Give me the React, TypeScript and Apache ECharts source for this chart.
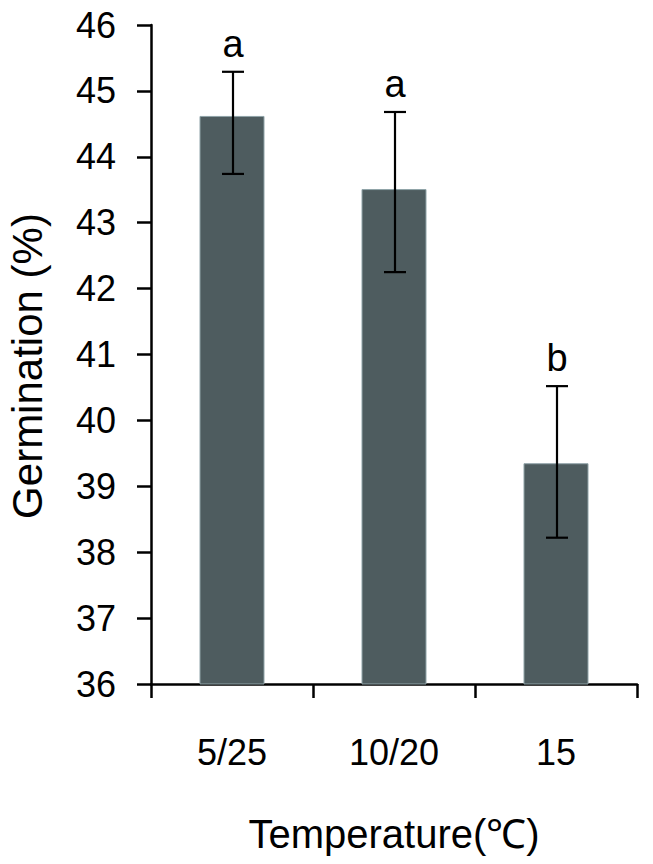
import React, { useEffect, useRef } from "react";
import * as echarts from "echarts";

const categories = ["5/25", "10/20", "15"];
const means = [44.62, 43.51, 39.35];
const errUpper = [45.29, 44.68, 40.52];
const errLower = [43.74, 42.25, 38.22];
const letters = ["a", "a", "b"];
const yTicks = { min: 36, max: 46, interval: 1 };

const FONT = '"Liberation Sans", Arial, Helvetica, sans-serif';

export default function App() {
  const ref = useRef<HTMLDivElement>(null);
  useEffect(() => {
    if (!ref.current) return;
    const chart = echarts.init(ref.current, null, { renderer: "svg" });
    const errData = categories.map((_, i) => [i, errLower[i], errUpper[i], letters[i]]);
    chart.setOption({
      animation: false,
      backgroundColor: "#ffffff",
      grid: { left: 151, top: 25, width: 486, height: 659, containLabel: false },
      graphic: [
        {
          type: "text",
          x: 27,
          y: 366,
          rotation: Math.PI / 2,
          style: {
            text: "Germination (%)",
            fontFamily: FONT,
            fontSize: 42,
            fill: "#000",
            align: "center",
            verticalAlign: "middle",
          },
        },
      ],
      xAxis: {
        type: "category",
        data: categories,
        boundaryGap: true,
        name: "Temperature(℃)",
        nameLocation: "middle",
        nameGap: 130,
        nameTextStyle: { fontFamily: FONT, fontSize: 40, color: "#000" },
        axisLine: { lineStyle: { color: "#000", width: 2.5 } },
        axisTick: { show: true, inside: false, length: 14, lineStyle: { color: "#000", width: 2.5 }, alignWithLabel: false },
        axisLabel: { fontFamily: FONT, fontSize: 36, color: "#000", margin: 50 },
        splitLine: { show: false },
      },
      yAxis: {
        type: "value",
        min: yTicks.min,
        max: yTicks.max,
        interval: yTicks.interval,
        axisLine: { show: true, lineStyle: { color: "#000", width: 2.5 } },
        axisTick: { show: true, inside: false, length: 14, lineStyle: { color: "#000", width: 2.5 } },
        axisLabel: { fontFamily: FONT, fontSize: 36, color: "#000", margin: 35 },
        splitLine: { show: false },
      },
      series: [
        {
          type: "bar",
          data: means,
          barWidth: 65,
          itemStyle: { color: "#4e5c5f", borderColor: "#8fa3a8", borderWidth: 1 },
          z: 2,
        },
        {
          type: "custom",
          z: 5,
          data: errData,
          renderItem: (params: any, api: any) => {
            const x = api.value(0);
            const lo = api.coord([x, api.value(1)]);
            const hi = api.coord([x, api.value(2)]);
            const cx = hi[0] + 1;
            const half = 11;
            const style = { stroke: "#000", lineWidth: 2.2 };
            return {
              type: "group",
              children: [
                { type: "line", shape: { x1: cx, y1: hi[1], x2: cx, y2: lo[1] }, style },
                { type: "line", shape: { x1: cx - half, y1: hi[1], x2: cx + half, y2: hi[1] }, style },
                { type: "line", shape: { x1: cx - half, y1: lo[1], x2: cx + half, y2: lo[1] }, style },
                {
                  type: "text",
                  x: cx,
                  y: hi[1] - 9,
                  style: {
                    text: String(api.value(3)),
                    fontFamily: FONT,
                    fontSize: 38,
                    fill: "#000",
                    align: "center",
                    verticalAlign: "bottom",
                  },
                },
              ],
            };
          },
        },
      ],
    });
    return () => chart.dispose();
  }, []);
  return (
    <div
      ref={ref}
      style={{ position: "absolute", left: 0, top: 0, width: 653, height: 864 }}
    />
  );
}
